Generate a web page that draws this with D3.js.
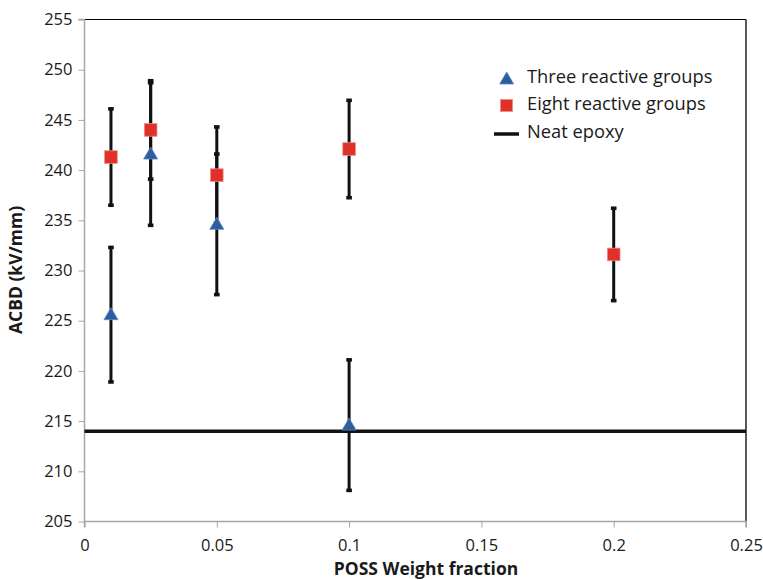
<!DOCTYPE html>
<html><head><meta charset="utf-8">
<script src="https://cdn.jsdelivr.net/npm/d3@7"></script>
<style>body{margin:0;background:#fff}svg{display:block}text{font-family:"Open Sans",sans-serif;fill:#1a1a1a}</style>
</head><body><svg id="c" width="763" height="580"></svg>
<script>
const xTicks = [0, 0.05, 0.1, 0.15, 0.2, 0.25];
const yTicks = [205, 210, 215, 220, 225, 230, 235, 240, 245, 250, 255];
const threeX = [0.01, 0.025, 0.05, 0.1];
const threeY = [225.6, 241.6, 234.6, 214.6];
const threeErr = [6.7, 7.1, 7.0, 6.5];
const eightX = [0.01, 0.025, 0.05, 0.1, 0.2];
const eightY = [241.3, 244.0, 239.5, 242.1, 231.6];
const eightErr = [4.8, 4.9, 4.8, 4.85, 4.6];
const neatY = 214.0;
const legendLabels = ["Three reactive groups", "Eight reactive groups", "Neat epoxy"];

const svg = d3.select("#c");
const L = 84.5, R = 746, T = 19.5, B = 521.5;
const x = d3.scaleLinear().domain([0, 0.25]).range([L, R]);
const y = d3.scaleLinear().domain([205, 255]).range([B, T]);

svg.append("line").attr("x1", L).attr("x2", R).attr("y1", T).attr("y2", T).attr("stroke", "#000").attr("stroke-width", 1);
svg.append("line").attr("x1", R).attr("x2", R).attr("y1", T).attr("y2", B).attr("stroke", "#000").attr("stroke-width", 1.3);

const gy = svg.append("g").attr("transform", `translate(${L},0)`)
  .call(d3.axisLeft(y).tickValues(yTicks).tickSize(6).tickPadding(6).tickFormat(d3.format("d")));
const gx = svg.append("g").attr("transform", `translate(0,${B})`)
  .call(d3.axisBottom(x).tickValues(xTicks).tickSize(6).tickPadding(12).tickFormat(d => d === 0 ? "0" : String(d)));
[gx, gy].forEach(g => {
  g.select(".domain").attr("stroke", "#a6a6a6").attr("stroke-width", 1.5);
  g.selectAll(".tick line").attr("stroke", "#a6a6a6").attr("stroke-width", 1);
  g.selectAll(".tick text").style("font-family", '"Open Sans",sans-serif').style("font-size", "16.5px").attr("fill", "#1a1a1a");
});
gy.select(".domain").attr("d", `M-6,${T}H0V${B}`);
gx.select(".domain").attr("d", `M${L},6V0H${R}V6`);

svg.append("line").attr("x1", x(0)).attr("x2", x(0.25)).attr("y1", y(neatY)).attr("y2", y(neatY))
  .attr("stroke", "#111").attr("stroke-width", 3.5);

function errBars(xs, ys, es) {
  const g = svg.append("g");
  xs.forEach((v, i) => {
    const cx = x(v), y1 = y(ys[i] + es[i]), y2 = y(ys[i] - es[i]);
    g.append("line").attr("x1", cx).attr("x2", cx).attr("y1", y1).attr("y2", y2).attr("stroke", "#111").attr("stroke-width", 3);
    [y1, y2].forEach(yy => g.append("rect").attr("x", cx - 2.8).attr("y", yy - 1.8).attr("width", 5.6).attr("height", 3.6).attr("fill", "#111"));
  });
}
errBars(threeX, threeY, threeErr);
errBars(eightX, eightY, eightErr);

const triPath = (cx, cy) => `M${cx},${cy - 7}L${cx + 7},${cy + 5}L${cx - 7},${cy + 5}Z`;
svg.append("g").selectAll("path").data(threeX).join("path")
  .attr("d", (d, i) => triPath(x(d), y(threeY[i])))
  .attr("fill", "#2c5d9e").attr("stroke", "#5b86c2").attr("stroke-width", 0.8);
svg.append("g").selectAll("rect").data(eightX).join("rect")
  .attr("x", d => x(d) - 6.3).attr("y", (d, i) => y(eightY[i]) - 6.3).attr("width", 12.6).attr("height", 12.6)
  .attr("fill", "#e0302a").attr("stroke", "#ee8a80").attr("stroke-width", 0.8);

const lg = svg.append("g");
const ly = [77, 104, 132];
lg.append("path").attr("d", triPath(506.7, ly[0] + 2)).attr("fill", "#2c5d9e").attr("stroke", "#5b86c2").attr("stroke-width", 0.8);
lg.append("rect").attr("x", 500.5).attr("y", ly[1] - 4.5).attr("width", 12).attr("height", 12).attr("fill", "#e0302a").attr("stroke", "#ee8a80").attr("stroke-width", 0.8);
lg.append("line").attr("x1", 494).attr("x2", 519).attr("y1", ly[2] + 2).attr("y2", ly[2] + 2).attr("stroke", "#111").attr("stroke-width", 3.5);
legendLabels.forEach((t, i) => lg.append("text").attr("x", 527).attr("y", ly[i]).attr("dy", "0.35em")
  .style("font-size", "18.3px").text(t));

svg.append("text").attr("transform", "translate(22,270) rotate(-90)").attr("text-anchor", "middle")
  .style("font-size", "17.5px").style("font-weight", "bold").text("ACBD (kV/mm)");
svg.append("text").attr("x", 426).attr("y", 575).attr("text-anchor", "middle")
  .style("font-size", "17.5px").style("font-weight", "bold").text("POSS Weight fraction");
</script></body></html>
